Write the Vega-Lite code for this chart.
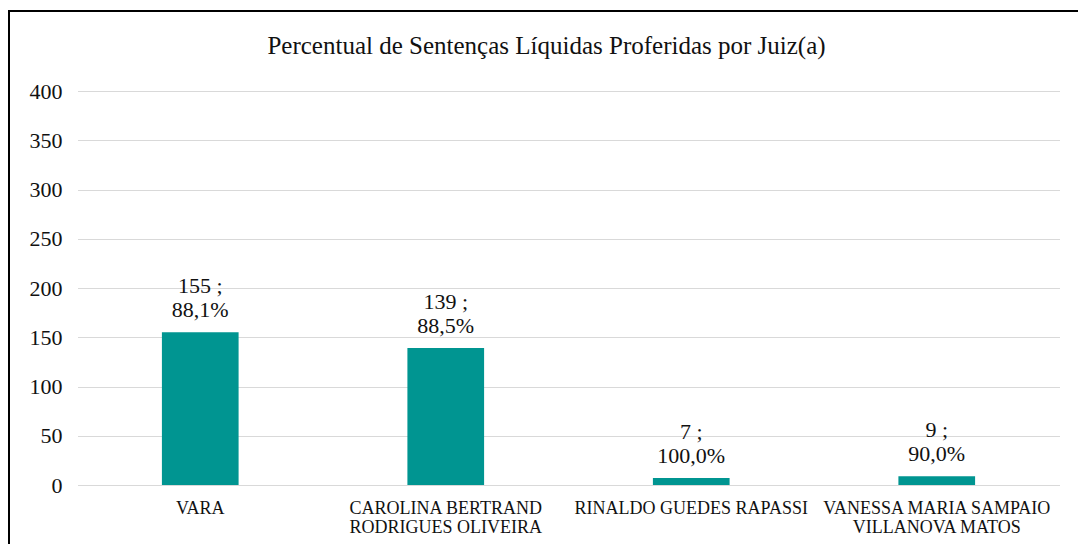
{
  "$schema": "https://vega.github.io/schema/vega-lite/v6.json",
  "width": 1075,
  "height": 540,
  "autosize": "none",
  "padding": {"left": 9, "top": 11, "right": 0, "bottom": 0},
  "background": "white",
  "title": {
    "text": "Percentual de Sentenças Líquidas Proferidas por Juiz(a)",
    "font": "Liberation Serif",
    "fontSize": 25,
    "fontWeight": "normal",
    "color": "#111111",
    "anchor": "middle",
    "frame": "group",
    "baseline": "alphabetic",
    "offset": -68
  },
  "config": {
    "view": {"stroke": "#000000", "strokeWidth": 2},
    "font": "Liberation Serif"
  },
  "data": {
    "values": [
      {"juiz": "VARA", "n": 155, "pct": "88,1%", "rotulo": "155 ;\n88,1%"},
      {"juiz": "CAROLINA BERTRAND\nRODRIGUES OLIVEIRA", "n": 139, "pct": "88,5%", "rotulo": "139 ;\n88,5%"},
      {"juiz": "RINALDO GUEDES RAPASSI", "n": 7, "pct": "100,0%", "rotulo": "7 ;\n100,0%"},
      {"juiz": "VANESSA MARIA SAMPAIO\nVILLANOVA MATOS", "n": 9, "pct": "90,0%", "rotulo": "9 ;\n90,0%"}
    ]
  },
  "encoding": {
    "x": {
      "field": "juiz",
      "type": "nominal",
      "sort": null,
      "scale": {"range": [68.5, 1050.5], "paddingInner": 0.6876, "paddingOuter": 0.3438},
      "axis": {
        "title": null,
        "orient": "bottom",
        "offset": -66,
        "domain": false,
        "ticks": false,
        "grid": false,
        "labelAngle": 0,
        "labelFont": "Liberation Serif",
        "labelFontSize": 18,
        "labelColor": "#111111",
        "labelPadding": 14,
        "labelLineHeight": 19,
        "labelBaseline": "top",
        "labelLimit": 0,
        "labelOverlap": false,
        "labelExpr": "split(datum.label, '\\n')"
      }
    },
    "y": {
      "field": "n",
      "type": "quantitative",
      "scale": {"domain": [0, 400], "range": [474, 80], "nice": false},
      "axis": {
        "title": null,
        "values": [0, 50, 100, 150, 200, 250, 300, 350, 400],
        "offset": -53,
        "labelPadding": 0,
        "ticks": false,
        "domain": false,
        "grid": true,
        "gridColor": "#d9d9d9",
        "gridWidth": 1,
        "labelFont": "Liberation Serif",
        "labelFontSize": 22,
        "labelColor": "#111111"
      }
    }
  },
  "layer": [
    {"mark": {"type": "bar", "color": "#009591"}},
    {
      "mark": {
        "type": "text",
        "baseline": "bottom",
        "dy": -34,
        "lineBreak": "\n",
        "lineHeight": 24,
        "font": "Liberation Serif",
        "fontSize": 22,
        "color": "#111111"
      },
      "encoding": {"text": {"field": "rotulo", "type": "nominal"}}
    }
  ]
}
